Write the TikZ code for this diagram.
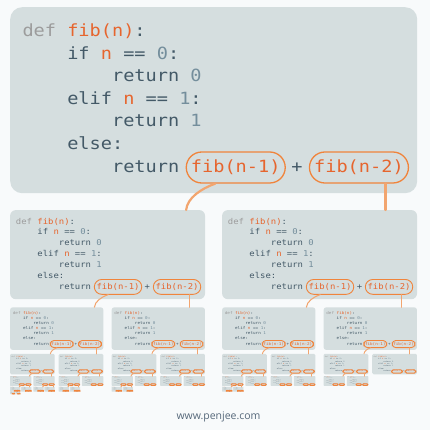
\documentclass[tikz,border=0pt]{standalone}
\usepackage{fontspec}
\usetikzlibrary{calc}
\newfontfamily\codefont{DejaVu Sans Mono}[FakeStretch=1.107]
\newfontfamily\footfont{Open Sans}
\definecolor{bg}{HTML}{F8FAFB}
\definecolor{boxc}{HTML}{D5DEDF}
\definecolor{dk}{HTML}{435967}
\definecolor{num}{HTML}{748E9C}
\definecolor{defg}{HTML}{9C9C9C}
\definecolor{orn}{HTML}{E6652E}
\definecolor{ovc}{HTML}{F0843C}
\definecolor{lnk}{HTML}{F2A56F}
\definecolor{foot}{HTML}{56687A}
\tikzset{
  codebox/.style={fill=boxc, draw=none, anchor=north west, minimum width=407pt, minimum height=186pt, inner sep=0pt, transform shape},
  codeline/.style={anchor=base west, inner sep=0pt, transform shape, text=dk, font=\codefont\fontsize{16.8}{20}\selectfont},
  callbox/.style={codeline, draw=ovc, inner xsep=4.7pt, inner ysep=0pt, text height=20.1pt, text depth=10.9pt, text=orn},
  link/.style={draw=lnk, line cap=round},
}
\def\kk{1}
\newcommand\fibbox[1]{%
  \pgfmathsetmacro\rbox{12*\kk}%
  \pgfmathsetmacro\rov{15.5*\kk}%
  \pgfmathsetmacro\lwo{max(1.3*\kk,0.9)}%
  \pgfmathsetmacro\lwl{max(2.2*\kk,0.9)}%
  \node[codebox, rounded corners=\rbox pt] (#1box) at (0,0) {};
  \node[codeline] (#1l1) at (12.3,-29.5) {\textcolor{defg}{def} \textcolor{orn}{fib(n)}:};
  \node[codeline] (#1l2) at (57.1,-52.1) {if \textcolor{orn}{n} == \textcolor{num}{0}:};
  \node[codeline] (#1l3) at (101.9,-74.7) {return \textcolor{num}{0}};
  \node[codeline] (#1l4) at (57.1,-97.3) {elif \textcolor{orn}{n} == \textcolor{num}{1}:};
  \node[codeline] (#1l5) at (101.9,-119.9) {return \textcolor{num}{1}};
  \node[codeline] (#1l6) at (57.1,-142.5) {else:};
  \node[codeline] (#1l7) at (101.9,-165.1) {return};
  \node[callbox, rounded corners=\rov pt, line width=\lwo pt] (#1a) at (175.6,-165.1) {fib(n-1)};
  \node[codeline] (#1p) at (281.1,-165.1) {+};
  \node[callbox, rounded corners=\rov pt, line width=\lwo pt] (#1b) at (298.8,-165.1) {fib(n-2)};
}
\newcommand\fibcall[2]{%
  \fibbox{#2}%
  \ifnum#1>1
    \edef\nA{\the\numexpr#1-1\relax}%
    \edef\nB{\the\numexpr#1-2\relax}%
    \begin{scope}[shift={(0,-203)},scale=0.479]
      \pgfmathsetmacro\kk{\kk*0.479}%
      \expandafter\fibcall\expandafter{\nA}{#2l}%
    \end{scope}
    \begin{scope}[shift={(212,-203)},scale=0.479]
      \pgfmathsetmacro\kk{\kk*0.479}%
      \expandafter\fibcall\expandafter{\nB}{#2r}%
    \end{scope}
    \draw[link, line width=\lwl pt] ($(#2a.south)!0.41!(#2a.south west)$) .. controls +(-14,-5) and +(1,12) .. ($(#2lbox.north west)!0.9026!(#2lbox.north east)$);
    \coordinate (#2s) at ($(#2b.south)!0.53!(#2b.south east)$);
    \draw[link, line width=\lwl pt] (#2s) -- (#2s |- #2rbox.north);
  \fi}
\begin{document}
\begin{tikzpicture}[x=1pt,y=1pt]
\fill[bg] (0,0) rectangle (430,-430);
\useasboundingbox (0,0) rectangle (430,-430);
\begin{scope}[shift={(10,-7)}]
  \fibcall{7}{f}
\end{scope}
\node[font=\footfont\fontsize{10.5}{12}\selectfont, text=foot, inner sep=0pt] (url) at (218.5,-416.7) {www.penjee.com};
\end{tikzpicture}
\end{document}
